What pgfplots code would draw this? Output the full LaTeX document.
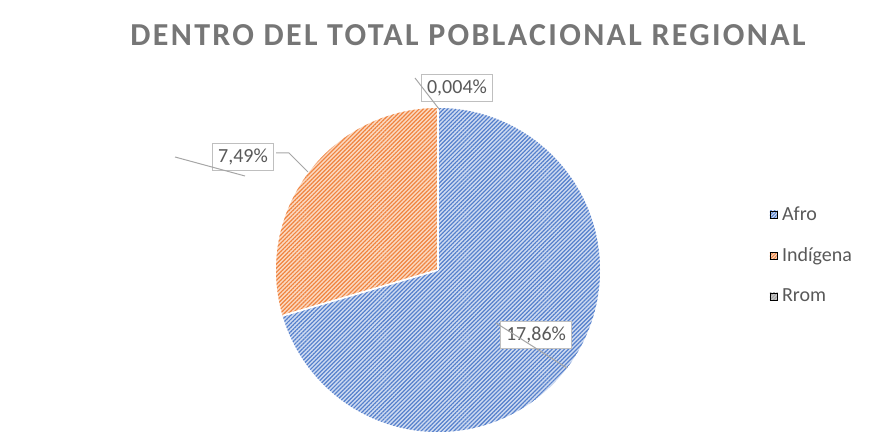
\documentclass[border=0pt]{standalone}
\usepackage{fontspec}
\setmainfont{Carlito}
\newfontfamily\titlefont[LetterSpace=7.3]{Carlito}
\usepackage{pgfplots}
\pgfplotsset{compat=1.18}
\usetikzlibrary{patterns.meta}

\definecolor{afro}{HTML}{5580CC}
\definecolor{afrolt}{HTML}{CFDBF1}
\definecolor{indi}{HTML}{EF8440}
\definecolor{indilt}{HTML}{FBD9C2}
\definecolor{rrom}{HTML}{A5A5A5}
\definecolor{txt}{HTML}{595959}
\definecolor{ttl}{HTML}{767676}
\definecolor{lead}{HTML}{A6A6A6}
\definecolor{boxc}{HTML}{BFBFBF}

% values (percent of regional population)
\def\vAfro{17.86}
\def\vIndi{7.49}
\def\vRrom{0.004}

\begin{document}
\begin{tikzpicture}
\pgfmathsetmacro\tot{\vAfro+\vIndi+\vRrom}
\pgfmathsetmacro\aA{90-360*\vAfro/\tot}
\pgfmathsetmacro\aB{\aA-360*\vIndi/\tot}
\def\R{81pt}
\begin{axis}[
  scale only axis,
  width=436pt, height=221pt,
  xmin=0, xmax=872, ymin=0, ymax=442,
  y dir=reverse,
  hide axis, clip=false,
  legend style={draw=none, fill=none, font=\fontsize{10}{12}\selectfont\color{txt},
    at={(axis cs:763,198)}, anchor=north west, row sep=8.2pt,
    /tikz/every even column/.append style={column sep=2pt}},
  legend cell align=left,
]
  \path (axis cs:0,0) rectangle (axis cs:872,442);
  \addlegendimage{legend image code/.code={\path[fill=afrolt, postaction={pattern={Lines[angle=45,distance=1.2pt,line width=0.55pt]}, pattern color=afro}] (0pt,-1.9pt) rectangle (3.8pt,1.9pt);}}
  \addlegendentry{Afro}
  \addlegendimage{legend image code/.code={\path[fill=indilt, postaction={pattern={Lines[angle=45,distance=1.2pt,line width=0.55pt]}, pattern color=indi}] (0pt,-1.9pt) rectangle (3.8pt,1.9pt);}}
  \addlegendentry{Indígena}
  \addlegendimage{legend image code/.code={\path[fill=rrom!60, postaction={pattern={Lines[angle=45,distance=1.2pt,line width=0.55pt]}, pattern color=rrom}] (0pt,-1.9pt) rectangle (3.8pt,1.9pt);}}
  \addlegendentry{Rrom}

  % slices
  \path[fill=afrolt, postaction={pattern={Lines[angle=45,distance=1.45pt,line width=0.6pt]}, pattern color=afro}]
    (axis cs:438,270) -- ++(90:\R) arc[start angle=90, end angle=\aA, radius=\R] -- cycle;
  \path[fill=indilt, postaction={pattern={Lines[angle=45,distance=1.45pt,line width=0.6pt]}, pattern color=indi}]
    (axis cs:438,270) -- ++(\aA:\R) arc[start angle=\aA, end angle=\aB, radius=\R] -- cycle;
  \path[fill=rrom]
    (axis cs:438,270) -- ++(\aB:\R) arc[start angle=\aB, end angle=-270, radius=\R] -- cycle;
  \draw[white, line width=0.9pt] (axis cs:438,270) -- ++(90:\R);
  \draw[white, line width=0.9pt] (axis cs:438,270) -- ++(\aA:\R);

  % title
  \node[text=ttl, font=\titlefont\fontsize{16}{19}\selectfont\bfseries] at (axis cs:468,35) {DENTRO DEL TOTAL POBLACIONAL REGIONAL};

  % data labels
  \node[draw=boxc, fill=white, line width=0.5pt, inner sep=2.6pt, text=txt, font=\fontsize{10}{12}\selectfont] at (axis cs:457,88) {0,004\%};
  \node[draw=boxc, fill=white, line width=0.5pt, inner sep=2.6pt, text=txt, font=\fontsize{10}{12}\selectfont] at (axis cs:243,157) {7,49\%};
  \node[draw=boxc, fill=white, line width=0.5pt, inner sep=2.6pt, text=txt, font=\fontsize{10}{12}\selectfont] at (axis cs:536,335) {17,86\%};

  % leader lines
  \draw[lead, line width=0.5pt] (axis cs:415,78) -- (axis cs:439,109);
  \draw[lead, line width=0.5pt] (axis cs:276,153) -- (axis cs:289,153) -- (axis cs:308,172);
  \draw[lead, line width=0.5pt] (axis cs:175,157) -- (axis cs:245,176);
  \draw[lead, line width=0.5pt] (axis cs:496,323) -- (axis cs:567,368);
\end{axis}
\end{tikzpicture}
\end{document}
